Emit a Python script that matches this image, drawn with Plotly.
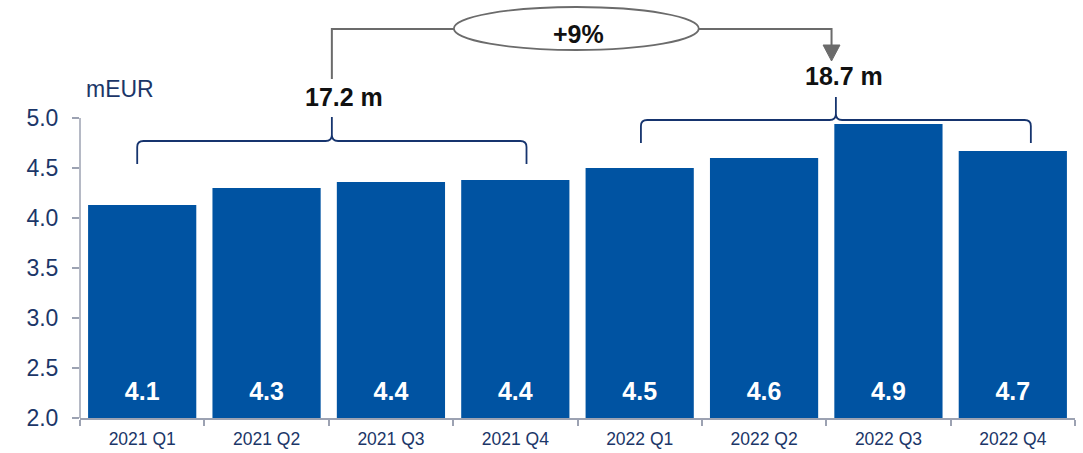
import plotly.graph_objects as go

categories = ["2021 Q1", "2021 Q2", "2021 Q3", "2021 Q4",
              "2022 Q1", "2022 Q2", "2022 Q3", "2022 Q4"]
values = [4.13, 4.30, 4.36, 4.38, 4.50, 4.60, 4.94, 4.67]
y_ticks = [2.0, 2.5, 3.0, 3.5, 4.0, 4.5, 5.0]
unit_label = "mEUR"
groups = [(0, 3), (4, 7)]

BAR = "#0053A2"
NAVY = "#1B3668"
BRACE = "#16346E"
GREY_AX = "#9CA2B2"
GREY = "#6B6B6B"
FONT = "Liberation Sans, Arial, sans-serif"

sums = [sum(values[a:b + 1]) for a, b in groups]
growth = (sums[1] / sums[0] - 1) * 100

fig = go.Figure()
fig.add_trace(go.Bar(
    x=categories, y=values, marker=dict(color=BAR, line=dict(width=0)),
    hoverinfo="skip", showlegend=False,
))
fig.add_trace(go.Scatter(
    x=categories, y=[2.245] * len(categories), mode="text",
    text=[f"{v:.1f}" for v in values],
    textfont=dict(color="white", size=25, family=FONT, weight="bold"),
    textposition="middle center", hoverinfo="skip", showlegend=False,
))

shapes = []
# brackets (curly braces)
br = [
    dict(dx0=-0.04, dx1=0.09, y_end=4.54, y_h=4.77, y_peak=5.01),
    dict(dx0=0.01, dx1=0.145, y_end=4.75, y_h=4.98, y_peak=5.21),
]
rx, ry = 0.05, 0.06
mids = []
for (a, b), p in zip(groups, br):
    x0 = a + p["dx0"]
    x1 = b + p["dx1"]
    xm = (x0 + x1) / 2
    mids.append(xm)
    ye, yh, yp = p["y_end"], p["y_h"], p["y_peak"]
    path = (f"M {x0},{ye} L {x0},{yh - ry} Q {x0},{yh} {x0 + rx},{yh} "
            f"L {xm - rx},{yh} Q {xm},{yh} {xm},{yh + ry} L {xm},{yp} "
            f"L {xm},{yh + ry} Q {xm},{yh} {xm + rx},{yh} "
            f"L {x1 - rx},{yh} Q {x1},{yh} {x1},{yh - ry} L {x1},{ye}")
    shapes.append(dict(type="path", xref="x", yref="y", path=path,
                       line=dict(color=BRACE, width=1.8)))

# connector
y_conn = 5.89
x_left = mids[0]
x_arrow = mids[1] - 0.035
shapes.append(dict(type="path", xref="x", yref="y",
                   path=f"M {x_left},5.39 L {x_left},{y_conn} L {x_arrow},{y_conn} L {x_arrow},5.72",
                   line=dict(color=GREY, width=2)))
shapes.append(dict(type="path", xref="x", yref="y",
                   path=f"M {x_arrow - 0.068},5.73 L {x_arrow + 0.068},5.73 L {x_arrow},5.57 Z",
                   fillcolor=GREY, line=dict(color=GREY, width=1)))
shapes.append(dict(type="circle", xref="x", yref="y",
                   x0=2.506, x1=4.475, y0=5.68, y1=6.11,
                   fillcolor="white", line=dict(color=GREY, width=1.8)))
# y-axis line from 2 to 5
shapes.append(dict(type="line", xref="paper", yref="y", x0=0, x1=0,
                   y0=y_ticks[0], y1=y_ticks[-1],
                   line=dict(color=GREY_AX, width=1.5)))

annotations = [
    dict(x=1.62, y=5.21, xref="x", yref="y", text=f"{sums[0]:.1f} m", showarrow=False,
         font=dict(size=25, color="#111111", family=FONT, weight="bold")),
    dict(x=5.645, y=5.425, xref="x", yref="y", text=f"{sums[1]:.1f} m", showarrow=False,
         font=dict(size=25, color="#111111", family=FONT, weight="bold")),
    dict(x=3.504, y=5.845, xref="x", yref="y", text=f"+{growth:.0f}%", showarrow=False,
         font=dict(size=25, color="#111111", family=FONT, weight="bold")),
    dict(x=0.004, y=5.29, xref="paper", yref="y", xanchor="left", text=unit_label,
         showarrow=False, font=dict(size=23, color=NAVY, family=FONT)),
]

fig.update_layout(
    width=1083, height=453,
    margin=dict(l=80, r=8, t=0, b=35),
    plot_bgcolor="white", paper_bgcolor="white",
    bargap=0.13,
    shapes=shapes, annotations=annotations,
    font=dict(family=FONT),
    xaxis=dict(type="category", range=[-0.5, 7.5], showline=True, linecolor=GREY_AX,
               linewidth=1.5, ticks="outside", tickson="boundaries", ticklen=6,
               tickcolor=GREY_AX, tickwidth=1.5, showgrid=False, zeroline=False,
               tickfont=dict(size=17.5, color=NAVY, family=FONT), ticklabelstandoff=4),
    yaxis=dict(range=[2, 6.18], tickvals=y_ticks, tickformat=".1f", showline=False,
               ticks="outside", ticklen=7, tickcolor=GREY_AX, tickwidth=1.5,
               showgrid=False, zeroline=False,
               tickfont=dict(size=23, color=NAVY, family=FONT), ticklabelstandoff=9),
)

fig.write_html("out.html")
